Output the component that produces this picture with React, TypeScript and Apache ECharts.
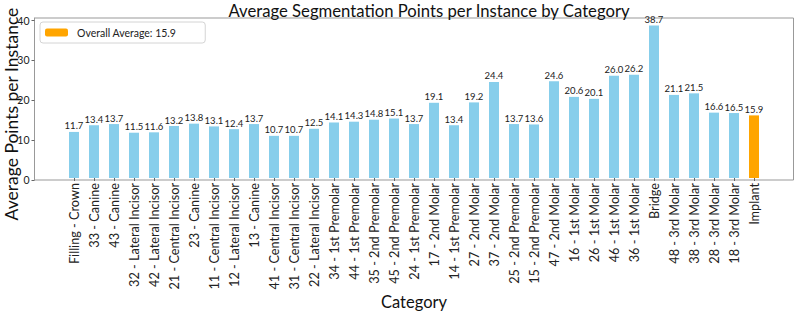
import React, { useEffect, useRef } from "react";
import * as echarts from "echarts";

// Tooth / restoration categories, in drawing order
const categories: string[] = [
  "Filling - Crown",
  "33 - Canine",
  "43 - Canine",
  "32 - Lateral Incisor",
  "42 - Lateral Incisor",
  "21 - Central Incisor",
  "23 - Canine",
  "11 - Central Incisor",
  "12 - Lateral Incisor",
  "13 - Canine",
  "41 - Central Incisor",
  "31 - Central Incisor",
  "22 - Lateral Incisor",
  "34 - 1st Premolar",
  "44 - 1st Premolar",
  "35 - 2nd Premolar",
  "45 - 2nd Premolar",
  "24 - 1st Premolar",
  "17 - 2nd Molar",
  "14 - 1st Premolar",
  "27 - 2nd Molar",
  "37 - 2nd Molar",
  "25 - 2nd Premolar",
  "15 - 2nd Premolar",
  "47 - 2nd Molar",
  "16 - 1st Molar",
  "26 - 1st Molar",
  "46 - 1st Molar",
  "36 - 1st Molar",
  "Bridge",
  "48 - 3rd Molar",
  "38 - 3rd Molar",
  "28 - 3rd Molar",
  "18 - 3rd Molar",
  "Implant",
];

// Average segmentation points per instance
const avgPoints: number[] = [
  11.7, 13.4, 13.7, 11.5, 11.6, 13.2, 13.8, 13.1, 12.4, 13.7, 10.7, 10.7, 12.5,
  14.1, 14.3, 14.8, 15.1, 13.7, 19.1, 13.4, 19.2, 24.4, 13.7, 13.6, 24.6, 20.6,
  20.1, 26.0, 26.2, 38.7, 21.1, 21.5, 16.6, 16.5, 15.9,
];

const highlightCategory = "Implant";
const overallAverage = 15.9;
const yTicks: number[] = [0, 10, 20, 30, 40];

const FONT = "Lato, 'DejaVu Sans', sans-serif";

// Frame (axes box) and the inner band area holding the bars
const FRAME = { left: 34.5, right: 0.5, top: 18, bottom: 135 };
const WIDTH = 794;

export default function App() {
  const ref = useRef<HTMLDivElement>(null);

  useEffect(() => {
    if (!ref.current) return;
    const chart = echarts.init(ref.current, undefined, { renderer: "svg" });

    const n = categories.length;
    const hi = categories.indexOf(highlightCategory);
    const blueData = avgPoints.map((v, i) => (i === hi ? "-" : v));
    const orangeData = avgPoints.map((v, i) => (i === hi ? v : "-"));
    const yMax = Math.max(...avgPoints) * 1.05;

    // matplotlib-like x margins: 5% of the bar extent on each side
    const frameW = WIDTH - FRAME.left - FRAME.right;
    const units = n - 1 + 0.5 + 2 * 0.05 * (n - 0.5);
    const unitPx = frameW / units;
    const pad = (0.05 * (n - 0.5) + 0.25 - 0.5) * unitPx;

    const labelCfg = {
      show: true,
      position: "top" as const,
      distance: 1,
      color: "#222",
      fontFamily: FONT,
      fontSize: 9.5,
      formatter: (p: any) => (p.value as number).toFixed(1),
    };

    chart.setOption({
      animation: false,
      backgroundColor: "#fff",
      title: {
        text: "Average Segmentation Points per Instance by Category",
        left: 424,
        textAlign: "center",
        top: -3,
        textStyle: {
          fontFamily: FONT,
          fontSize: 16.7,
          fontWeight: "normal",
          color: "#111",
        },
      },
      legend: {
        left: 40,
        top: 22,
        orient: "vertical",
        data: [`Overall Average: ${overallAverage}`],
        itemWidth: 23,
        itemHeight: 8,
        padding: [5, 29, 5, 5],
        borderColor: "#d4d4d4",
        borderWidth: 1,
        borderRadius: 3,
        textStyle: {
          fontFamily: FONT,
          fontSize: 10.5,
          color: "#222",
          padding: [0, 0, 0, 4],
        },
      },
      graphic: [
        {
          type: "text",
          x: 11,
          y: 114,
          rotation: Math.PI / 2,
          style: {
            text: "Average Points per Instance",
            fontFamily: FONT,
            fontSize: 17.5,
            fill: "#111",
            textAlign: "center",
            textVerticalAlign: "middle",
          },
        },
      ],
      grid: [
        {
          left: FRAME.left,
          right: FRAME.right,
          top: FRAME.top,
          bottom: FRAME.bottom,
          show: true,
          borderColor: "#999",
          borderWidth: 1,
          backgroundColor: "transparent",
        },
        {
          left: FRAME.left + pad,
          right: FRAME.right + pad,
          top: FRAME.top,
          bottom: FRAME.bottom,
        },
      ],
      xAxis: [
        {
          gridIndex: 0,
          type: "value",
          min: 0,
          max: 1,
          show: false,
        },
        {
          gridIndex: 1,
          type: "category",
          data: categories,
          boundaryGap: true,
          name: "Category",
          nameLocation: "middle",
          nameGap: 115,
          nameMoveOverlap: false,
          nameTextStyle: { fontFamily: FONT, fontSize: 16.5, color: "#111" },
          axisLine: { show: false },
          splitLine: { show: false },
          axisTick: {
            show: true,
            alignWithLabel: true,
            length: 3,
            lineStyle: { color: "#666" },
          },
          axisLabel: {
            interval: 0,
            rotate: 90,
            margin: 5,
            fontFamily: FONT,
            fontSize: 12.7,
            color: "#222",
          },
        },
      ],
      yAxis: [
        {
          gridIndex: 0,
          type: "value",
          min: 0,
          max: yMax,
          axisLine: { show: true, onZero: false, lineStyle: { color: "#999" } },
          splitLine: { show: false },
          axisTick: {
            show: true,
            customValues: yTicks,
            length: 3,
            lineStyle: { color: "#666" },
          },
          axisLabel: {
            customValues: yTicks,
            margin: 5,
            fontFamily: FONT,
            fontSize: 10.5,
            color: "#222",
          },
        },
        {
          gridIndex: 1,
          type: "value",
          min: 0,
          max: yMax,
          show: false,
        },
      ],
      series: [
        {
          type: "bar",
          name: "Points",
          xAxisIndex: 1,
          yAxisIndex: 1,
          data: blueData,
          barWidth: "50%",
          barGap: "-100%",
          itemStyle: { color: "#87CEEB" },
          label: labelCfg,
        },
        {
          type: "bar",
          name: `Overall Average: ${overallAverage}`,
          xAxisIndex: 1,
          yAxisIndex: 1,
          data: orangeData,
          barWidth: "50%",
          barGap: "-100%",
          itemStyle: { color: "#FFA500" },
          label: labelCfg,
        },
      ],
    });

    return () => chart.dispose();
  }, []);

  return (
    <div
      ref={ref}
      style={{ position: "fixed", left: 0, top: 0, width: WIDTH, height: 315 }}
    />
  );
}
